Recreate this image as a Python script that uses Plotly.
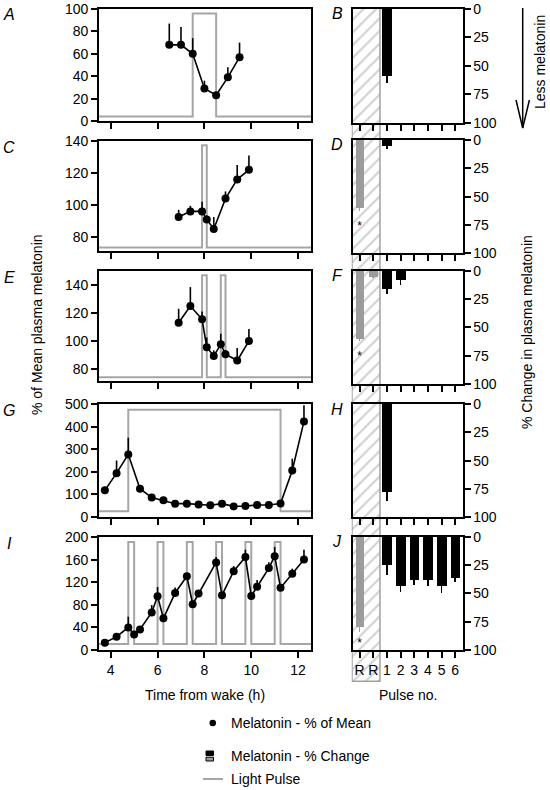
import plotly.graph_objects as go

# ------------------------------------------------------------------ data
# Left panels: time from wake (h), melatonin (% of mean), upper SEM
a_time = [6.5, 7.0, 7.5, 8.0, 8.5, 9.0, 9.5]
a_mel = [68, 68, 60, 29, 23, 39, 57]
a_err = [19, 16, 14, 7, 2, 9, 13]
a_pulse_on = [7.5]
a_pulse_off = [8.5]
a_light_level = [4, 96]

c_time = [6.9, 7.4, 7.9, 8.1, 8.4, 8.9, 9.4, 9.9]
c_mel = [92.5, 96, 96, 91, 85, 104, 116, 122]
c_err = [4.5, 3.5, 6, 2.5, 7.5, 4.5, 9, 9]
c_pulse_on = [7.9]
c_pulse_off = [8.1]
c_light_level = [73.4, 137.3]

e_time = [6.9, 7.4, 7.9, 8.1, 8.4, 8.7, 8.9, 9.4, 9.9]
e_mel = [113, 125, 115.5, 95.5, 89.3, 97.6, 90.5, 86, 100]
e_err = [10, 13.5, 5.5, 7, 4, 7.5, 3, 9, 8.5]
e_pulse_on = [7.9, 8.7]
e_pulse_off = [8.1, 8.9]
e_light_level = [74, 147]

g_time = [3.75, 4.25, 4.75, 5.25, 5.75, 6.25, 6.75, 7.25, 7.75, 8.25,
          8.75, 9.25, 9.75, 10.25, 10.75, 11.25, 11.75, 12.25]
g_mel = [118, 194, 277, 125, 86, 74, 59, 59, 55, 52, 59, 47, 49, 53, 53, 60, 206, 423]
g_err = [8, 56, 74, 6, 4, 3, 3, 3, 3, 3, 3, 3, 3, 3, 3, 3, 52, 71]
g_pulse_on = [4.75]
g_pulse_off = [11.25]
g_light_level = [25, 475]

i_time = [3.75, 4.25, 4.75, 5.0, 5.25, 5.75, 6.0, 6.25, 6.75, 7.25, 7.5, 7.75,
          8.5, 8.75, 9.25, 9.75, 10.0, 10.25, 10.75, 11.0, 11.25, 11.75, 12.25]
i_mel = [13, 23.5, 40, 27.5, 36.5, 66.5, 95, 56, 101, 130.5, 81, 100,
         155, 97, 139.5, 164.5, 95.5, 112, 145, 166, 110, 135, 160]
i_err = [2, 6, 19, 3, 5, 13, 16.5, 3, 9.5, 3, 3, 3,
         9.5, 3, 9, 13, 3, 12, 10.5, 16.5, 3, 9, 17.5]
i_pulse_on = [4.75, 6.0, 7.25, 8.5, 9.75, 11.0]
i_pulse_off = [5.0, 6.25, 7.5, 8.75, 10.0, 11.25]
i_light_level = [10.6, 191]

# Right panels: % change in plasma melatonin
pulse_labels = ["R", "R", "1", "2", "3", "4", "5", "6"]
b_ref = [None, None]
b_ref_err = [None, None]
b_pulse = [59, None, None, None, None, None]
b_pulse_err = [6, None, None, None, None, None]
b_sig = [None, None]

d_ref = [60, None]
d_ref_err = [3, None]
d_pulse = [5, None, None, None, None, None]
d_pulse_err = [3, None, None, None, None, None]
d_sig = [77, None]

f_ref = [60, 5]
f_ref_err = [2, 1]
f_pulse = [15.5, 7.5, None, None, None, None]
f_pulse_err = [5.5, 5.5, None, None, None, None]
f_sig = [76, None]

h_ref = [None, None]
h_ref_err = [None, None]
h_pulse = [78, None, None, None, None, None]
h_pulse_err = [8, None, None, None, None, None]
h_sig = [None, None]

j_ref = [79, None]
j_ref_err = [5, None]
j_pulse = [25, 43, 38, 38, 43, 36]
j_pulse_err = [9, 6, 4.5, 5.5, 6.5, 4]
j_sig = [95, None]

time_ticks = [4, 6, 8, 10, 12]
change_ticks = [0, 25, 50, 75, 100]

# ------------------------------------------------------------------ style
W, H = 550, 790
FONT = "Liberation Sans, Arial, Helvetica, sans-serif"
LIGHT = "#a6a6a6"
BARGRAY = "#9c9c9c"
HATCH = "#a0a0a0"
TICKSZ = 14
X_RANGE = [3.5, 12.55]
CAT_RANGE = [-0.5, 7.55]


def fx(p):
    return p / W


def fy(p):
    return 1 - p / H


def label(text, x, y, size=14, angle=0, xanchor="center", italic=False):
    return dict(text=f"<i>{text}</i>" if italic else text, x=fx(x), y=fy(y),
                xref="paper", yref="paper", xanchor=xanchor, yanchor="middle",
                showarrow=False, textangle=angle,
                font=dict(size=size, family=FONT, color="black"))


left = [
    dict(letter="A", t=a_time, m=a_mel, e=a_err, on=a_pulse_on, off=a_pulse_off,
         lv=a_light_level, rng=[0, 100], ticks=[0, 20, 40, 60, 80, 100], top=9, bot=121),
    dict(letter="C", t=c_time, m=c_mel, e=c_err, on=c_pulse_on, off=c_pulse_off,
         lv=c_light_level, rng=[71.25, 140], ticks=[80, 100, 120, 140], top=141, bot=251),
    dict(letter="E", t=e_time, m=e_mel, e=e_err, on=e_pulse_on, off=e_pulse_off,
         lv=e_light_level, rng=[71.4, 150], ticks=[80, 100, 120, 140], top=271, bot=381),
    dict(letter="G", t=g_time, m=g_mel, e=g_err, on=g_pulse_on, off=g_pulse_off,
         lv=g_light_level, rng=[0, 500], ticks=[0, 100, 200, 300, 400, 500], top=404, bot=517),
    dict(letter="I", t=i_time, m=i_mel, e=i_err, on=i_pulse_on, off=i_pulse_off,
         lv=i_light_level, rng=[0, 200], ticks=[0, 40, 80, 120, 160, 200], top=537, bot=650),
]
right = [
    dict(letter="B", ref=b_ref, rerr=b_ref_err, pul=b_pulse, perr=b_pulse_err, sig=b_sig, top=9, bot=122.7),
    dict(letter="D", ref=d_ref, rerr=d_ref_err, pul=d_pulse, perr=d_pulse_err, sig=d_sig, top=140, bot=253.3),
    dict(letter="F", ref=f_ref, rerr=f_ref_err, pul=f_pulse, perr=f_pulse_err, sig=f_sig, top=270.7, bot=384),
    dict(letter="H", ref=h_ref, rerr=h_ref_err, pul=h_pulse, perr=h_pulse_err, sig=h_sig, top=404, bot=517.3),
    dict(letter="J", ref=j_ref, rerr=j_ref_err, pul=j_pulse, perr=j_pulse_err, sig=j_sig, top=536.7, bot=650),
]

fig = go.Figure()
layout = dict(
    width=W, height=H, margin=dict(l=0, r=0, t=0, b=0, autoexpand=False),
    paper_bgcolor="white", plot_bgcolor="rgba(0,0,0,0)",
    showlegend=False, font=dict(family=FONT, size=TICKSZ, color="black"),
    bargap=0, barmode="overlay",
)

# ---- hatched reference column (drawn first, underneath)
fig.add_trace(go.Bar(
    x=[0], y=[1], base=0, width=0.93, xaxis="x", yaxis="y",
    marker=dict(color="white",
                pattern=dict(shape="/", fgcolor=HATCH, bgcolor="white", size=9, solidity=0.22),
                line=dict(color=HATCH, width=1.5)),
    hoverinfo="skip"))
layout["xaxis"] = dict(domain=[fx(351.7), fx(381.7)], range=[-0.5, 0.5], visible=False, fixedrange=True)
layout["yaxis"] = dict(domain=[fy(682.7), fy(8)], range=[-0.0015, 1.0015], visible=False, fixedrange=True)

annotations = []
shapes = []

axis_common = dict(showline=True, linecolor="black", linewidth=1.6, mirror=True,
                   ticks="outside", ticklen=6, tickwidth=1.5, tickcolor="black",
                   showgrid=False, zeroline=False, fixedrange=True, automargin=False,
                   tickfont=dict(family=FONT, size=TICKSZ, color="black"))

# ---- left panels
for k, p in enumerate(left):
    n = k + 2
    xa, ya = f"x{n}", f"y{n}"
    # light pulse step line
    lx = [X_RANGE[0]]
    ly = [p["lv"][0]]
    for on, off in zip(p["on"], p["off"]):
        lx += [on, on, off, off]
        ly += [p["lv"][0], p["lv"][1], p["lv"][1], p["lv"][0]]
    lx.append(X_RANGE[1])
    ly.append(p["lv"][0])
    fig.add_trace(go.Scatter(x=lx, y=ly, mode="lines", xaxis=xa, yaxis=ya,
                             line=dict(color=LIGHT, width=2), cliponaxis=True, hoverinfo="skip"))
    fig.add_trace(go.Scatter(
        x=p["t"], y=p["m"], mode="lines+markers", xaxis=xa, yaxis=ya,
        line=dict(color="black", width=1.6),
        marker=dict(color="black", size=8),
        error_y=dict(type="data", array=p["e"], arrayminus=[0] * len(p["e"]), symmetric=False,
                     color="black", thickness=1.6, width=0),
        cliponaxis=False))
    layout[f"xaxis{n}"] = dict(axis_common, domain=[fx(99), fx(311)], range=X_RANGE,
                               tickvals=time_ticks, anchor=ya,
                               showticklabels=(p["letter"] == "I"))
    layout[f"yaxis{n}"] = dict(axis_common, domain=[fy(p["bot"]), fy(p["top"])], range=p["rng"],
                               tickvals=p["ticks"], anchor=xa)
    annotations.append(label(p["letter"], 9, p["top"] + 6, size=16, italic=True))

# ---- right panels
for k, p in enumerate(right):
    n = k + 7
    xa, ya = f"x{n}", f"y{n}"
    fig.add_trace(go.Bar(
        x=[0, 1], y=p["ref"], xaxis=xa, yaxis=ya, width=0.6,
        marker=dict(color=BARGRAY, line=dict(width=0)),
        error_y=dict(type="data", array=p["rerr"], arrayminus=[0, 0], symmetric=False,
                     color=BARGRAY, thickness=1.5, width=0)))
    fig.add_trace(go.Bar(
        x=list(range(2, 8)), y=p["pul"], xaxis=xa, yaxis=ya, width=0.72,
        marker=dict(color="black", line=dict(width=0)),
        error_y=dict(type="data", array=p["perr"], arrayminus=[0] * 6, symmetric=False,
                     color="black", thickness=1.5, width=0)))
    fig.add_trace(go.Scatter(
        x=[0, 1], y=p["sig"], mode="text", text=["*", "*"], xaxis=xa, yaxis=ya,
        textfont=dict(size=12, color="black", family=FONT), textposition="middle center"))
    layout[f"xaxis{n}"] = dict(axis_common, domain=[fx(352.7), fx(462.7)], range=CAT_RANGE,
                               tickvals=list(range(8)), ticktext=pulse_labels, anchor=ya,
                               showticklabels=(p["letter"] == "J"))
    layout[f"yaxis{n}"] = dict(axis_common, domain=[fy(p["bot"]), fy(p["top"])], range=[100, 0],
                               tickvals=change_ticks, side="right", anchor=xa)
    annotations.append(label(p["letter"], 337, p["top"] + 5, size=16, italic=True))

# ---- axis titles and legend text
annotations += [
    label("% of Mean plasma melatonin", 37, 325, angle=-90),
    label("% Change in plasma melatonin", 527, 332, angle=-90),
    label("Less melatonin", 540, 62, angle=-90),
    label("Time from wake (h)", 205, 695),
    label("Pulse no.", 408, 695),
    label("Melatonin - % of Mean", 228.5, 723, xanchor="left"),
    label("Melatonin - % Change", 228.5, 756, xanchor="left"),
    label("Light Pulse", 228.5, 779, xanchor="left"),
]

# ---- decorations: arrow and legend icons
shapes += [
    dict(type="line", xref="paper", yref="paper", x0=fx(522.7), x1=fx(522.7), y0=fy(8), y1=fy(128),
         line=dict(color="black", width=1.5)),
    dict(type="path", xref="paper", yref="paper",
         path=f"M {fx(516)},{fy(100)} L {fx(522.7)},{fy(128)} L {fx(529.4)},{fy(100)}",
         line=dict(color="black", width=1.5)),
    dict(type="circle", xref="paper", yref="paper", x0=fx(209.5), x1=fx(216), y0=fy(726.3), y1=fy(719.7),
         fillcolor="black", line=dict(color="black", width=0)),
    dict(type="rect", xref="paper", yref="paper", x0=fx(206), x1=fx(213.5), y0=fy(755.5), y1=fy(751),
         fillcolor="black", line=dict(color="black", width=1)),
    dict(type="rect", xref="paper", yref="paper", x0=fx(206), x1=fx(213.5), y0=fy(761), y1=fy(757.2),
         fillcolor=BARGRAY, line=dict(color="black", width=1)),
    dict(type="line", xref="paper", yref="paper", x0=fx(203), x1=fx(223), y0=fy(779), y1=fy(779),
         line=dict(color=LIGHT, width=2)),
]

layout["annotations"] = annotations
layout["shapes"] = shapes
fig.update_layout(**layout)
# remove the default 8px page margin so the figure sits at the window's top-left corner
fig.write_html("out.html", config={"displayModeBar": False},
               post_script="document.body.style.margin='0';")
